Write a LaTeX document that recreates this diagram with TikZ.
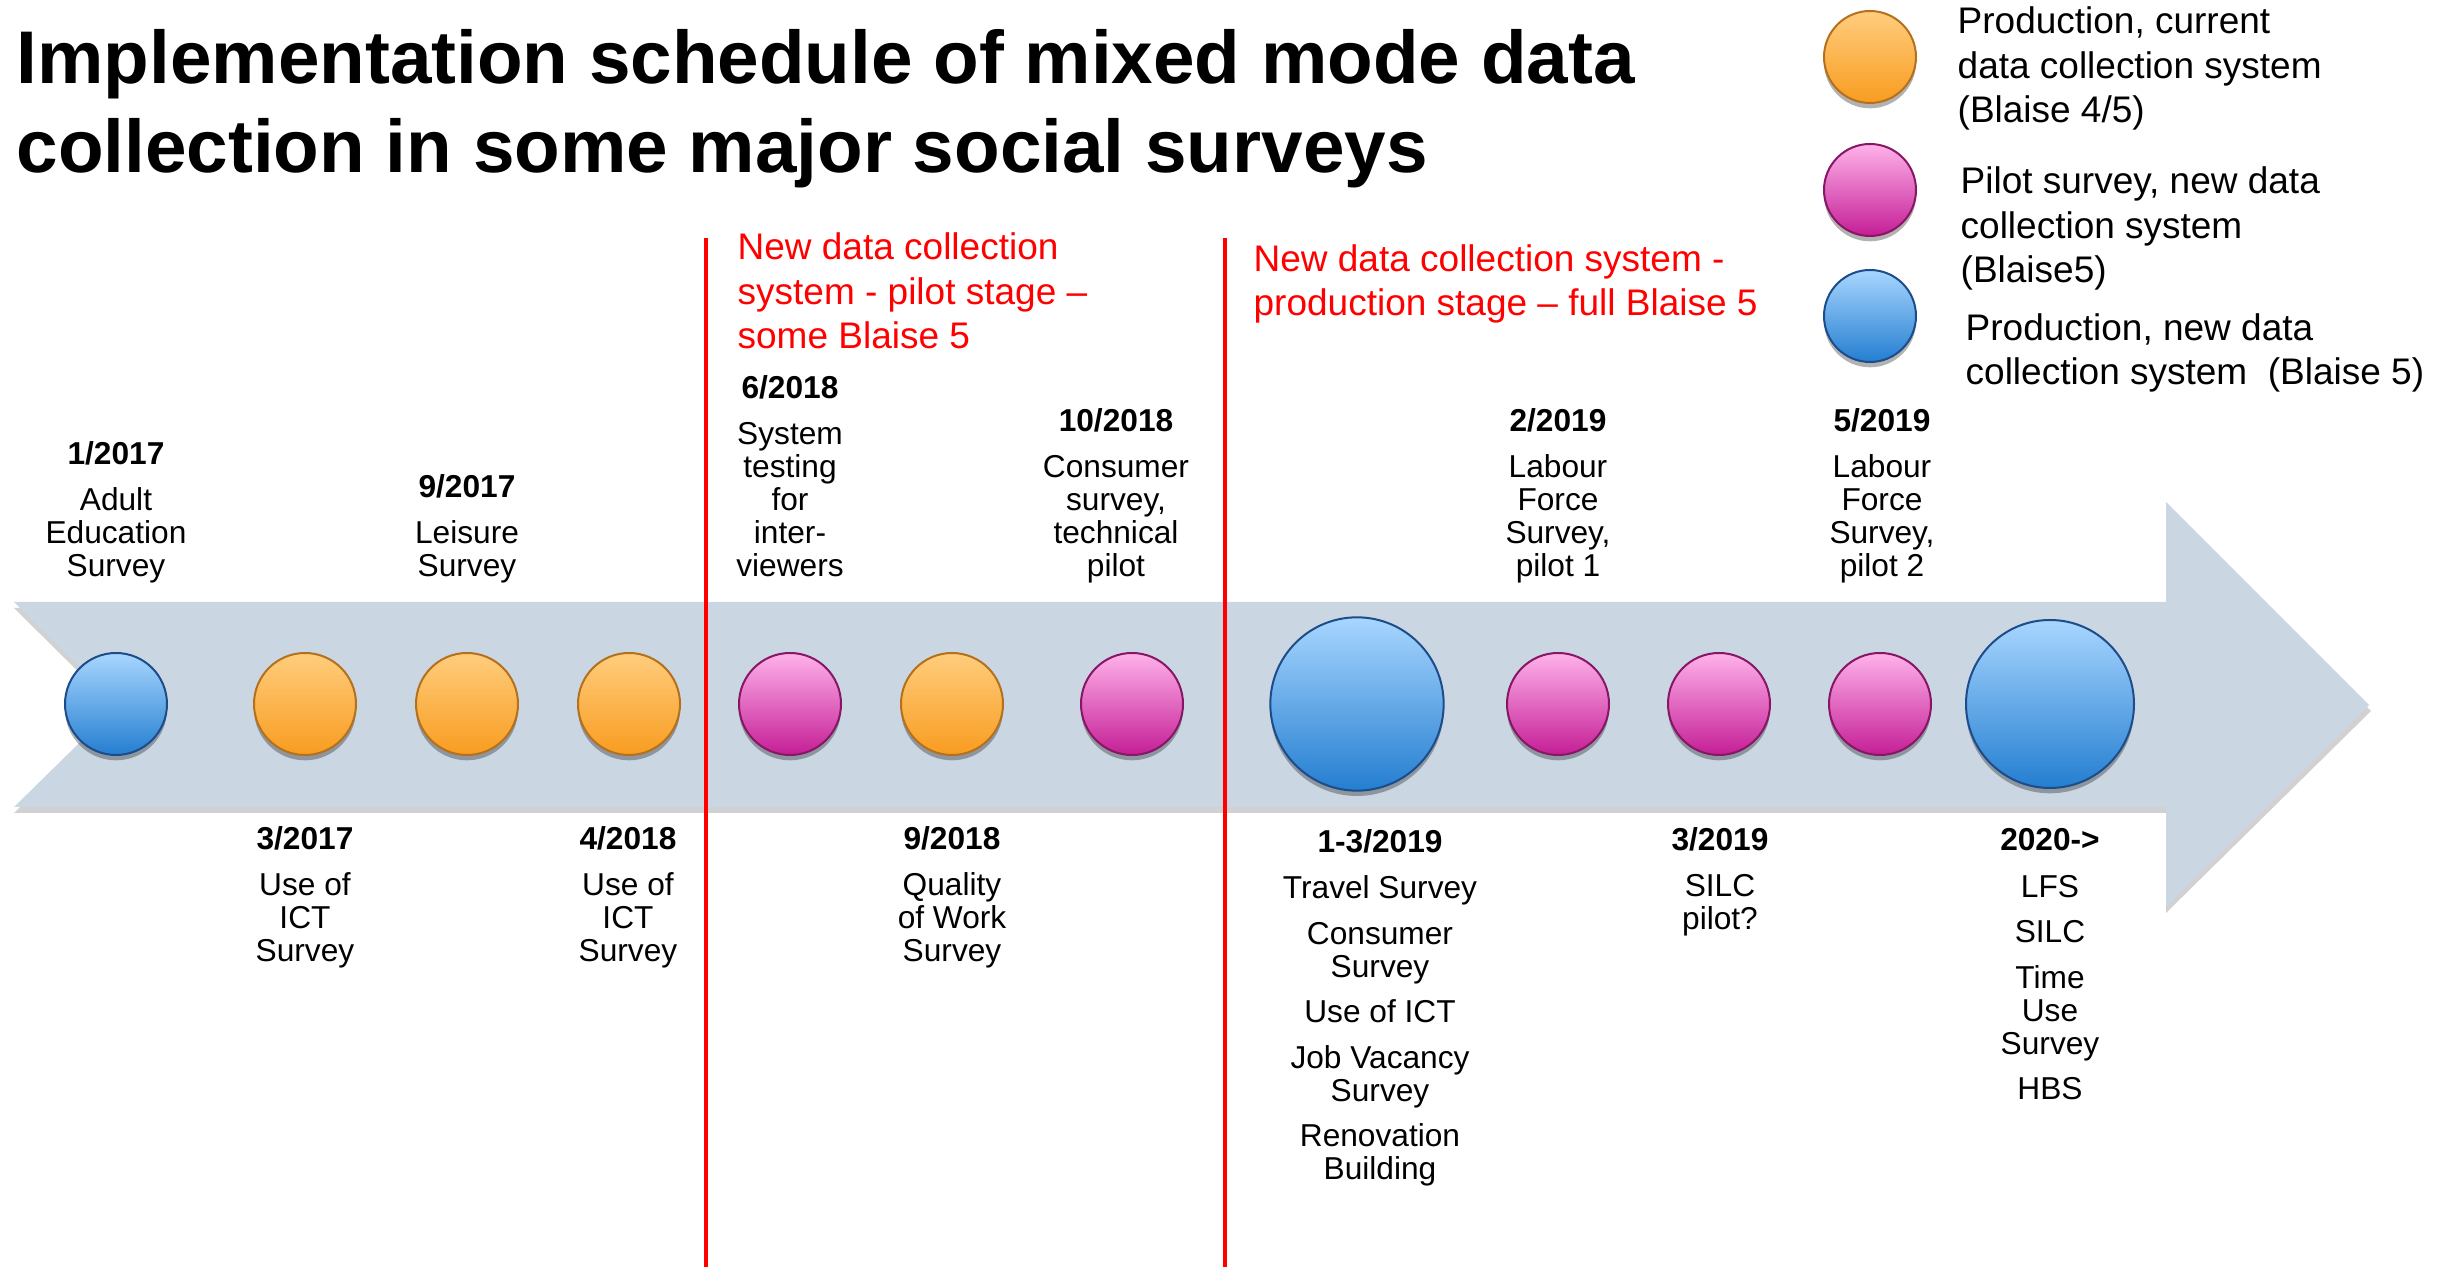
\documentclass[tikz,border=0pt]{standalone}
\usepackage{fontspec}
\setmainfont{Liberation Sans}
\usetikzlibrary{shadows}
\definecolor{bandc}{RGB}{203,214,227}
\definecolor{orT}{RGB}{255,205,125}
\definecolor{orB}{RGB}{248,156,32}
\definecolor{orD}{RGB}{180,112,28}
\definecolor{piT}{RGB}{255,178,234}
\definecolor{piB}{RGB}{196,30,150}
\definecolor{piD}{RGB}{135,22,100}
\definecolor{blT}{RGB}{168,214,255}
\definecolor{blB}{RGB}{36,126,208}
\definecolor{blD}{RGB}{28,76,138}
\tikzset{
  orb/.style={circle, inner sep=0pt, minimum size=30.6pt, line width=0.6pt,
    drop shadow={shadow xshift=0pt, shadow yshift=-1.6pt, opacity=0.3, fill=black}},
  orangeorb/.style={orb, top color=orT, bottom color=orB, draw=orD},
  pinkorb/.style={orb, top color=piT, bottom color=piB, draw=piD},
  blueorb/.style={orb, top color=blT, bottom color=blB, draw=blD},
  bigorb/.style={minimum size=52pt},
  legendorb/.style={minimum size=27.6pt},
  lbl/.style={inner sep=0pt, anchor=base, align=center, font=\fontsize{9.5}{9.9}\selectfont},
  rednote/.style={inner sep=0pt, anchor=base west, align=left, text=red, font=\fontsize{11.1}{13.35}\selectfont},
  legendtext/.style={inner sep=0pt, anchor=base west, align=left, font=\fontsize{11.1}{13.35}\selectfont},
  redline/.style={red, line width=1.4pt},
}
\begin{document}
\begin{tikzpicture}[x=0.3pt, y=-0.3pt]
\useasboundingbox (0,0) rectangle (2437,1267);
% band shadow and band
\fill[black, opacity=0.18] (14,608) -- (2166,608) -- (2166,508) -- (2371,711) -- (2166,913) -- (2166,813) -- (14,813) -- (118,711) -- cycle;
\fill[bandc] (14,602) -- (2166,602) -- (2166,502) -- (2369,705) -- (2166,907) -- (2166,807) -- (14,807) -- (118,705) -- cycle;
% red separators
\coordinate (r1t) at (706,238); \coordinate (r1b) at (706,1267);
\coordinate (r2t) at (1225,238); \coordinate (r2b) at (1225,1267);
\draw[redline] (r1t) -- (r1b);
\draw[redline] (r2t) -- (r2b);
% title (anchor = baseline of last line)
\node[inner sep=0pt, anchor=base west, align=left, font=\bfseries\fontsize{22.4}{26.7}\selectfont] (title) at (16,173)
  {Implementation schedule of mixed mode data\\collection in some major social surveys};
% red phase notes
\node[rednote] (phase1) at (737,349) {New data collection\\system - pilot stage –\\some Blaise 5};
\node[rednote] (phase2) at (1253,316) {New data collection system -\\production stage – full Blaise 5};
% legend
\node[orangeorb, legendorb] (lg1) at (1870,57) {};
\node[pinkorb, legendorb] (lg2) at (1870,190) {};
\node[blueorb, legendorb] (lg3) at (1870,316) {};
\node[legendtext] (lt1) at (1957,123) {Production, current\\data collection system\\(Blaise 4/5)};
\node[legendtext] (lt2) at (1960,283) {Pilot survey, new data\\collection system\\(Blaise5)};
\node[legendtext] (lt3) at (1965,385) {Production, new data\\collection system\ \ (Blaise 5)};
% timeline orbs
\node[blueorb] (c1) at (116,704) {};
\node[orangeorb] (c2) at (305,704) {};
\node[orangeorb] (c3) at (467,704) {};
\node[orangeorb] (c4) at (629,704) {};
\node[pinkorb] (c5) at (790,704) {};
\node[orangeorb] (c6) at (952,704) {};
\node[pinkorb] (c7) at (1132,704) {};
\node[blueorb, bigorb] (c8) at (1357,704) {};
\node[pinkorb] (c9) at (1558,704) {};
\node[pinkorb] (c10) at (1719,704) {};
\node[pinkorb] (c11) at (1880,704) {};
\node[blueorb, bigorb, minimum size=50.4pt] (c12) at (2050,704) {};
% labels above (anchor = baseline of last line)
\node[lbl] (t1) at (116,577) {\textbf{1/2017}\\[4pt]Adult\\Education\\Survey};
\node[lbl] (t3) at (467,577) {\textbf{9/2017}\\[4pt]Leisure\\Survey};
\node[lbl] (t5) at (790,577) {\textbf{6/2018}\\[4pt]System\\testing\\for\\inter-\\viewers};
\node[lbl] (t7) at (1116,577) {\textbf{10/2018}\\[4pt]Consumer\\survey,\\technical\\pilot};
\node[lbl] (t9) at (1558,577) {\textbf{2/2019}\\[4pt]Labour\\Force\\Survey,\\pilot 1};
\node[lbl] (t11) at (1882,577) {\textbf{5/2019}\\[4pt]Labour\\Force\\Survey,\\pilot 2};
% labels below
\node[lbl] (t2) at (305,962) {\textbf{3/2017}\\[4pt]Use of\\ICT\\Survey};
\node[lbl] (t4) at (628,962) {\textbf{4/2018}\\[4pt]Use of\\ICT\\Survey};
\node[lbl] (t6) at (952,962) {\textbf{9/2018}\\[4pt]Quality\\of Work\\Survey};
\node[lbl] (t8) at (1380,1180) {\textbf{1-3/2019}\\[4pt]Travel Survey\\[3.8pt]Consumer\\Survey\\[3.8pt]Use of ICT\\[3.8pt]Job Vacancy\\Survey\\[3.8pt]Renovation\\Building};
\node[lbl] (t10) at (1720,930) {\textbf{3/2019}\\[4pt]SILC\\pilot?};
\node[lbl] (t12) at (2050,1100) {\textbf{2020->}\\[4pt]LFS\\[3.8pt]SILC\\[3.8pt]Time\\Use\\Survey\\[3.8pt]HBS};
\end{tikzpicture}
\end{document}
